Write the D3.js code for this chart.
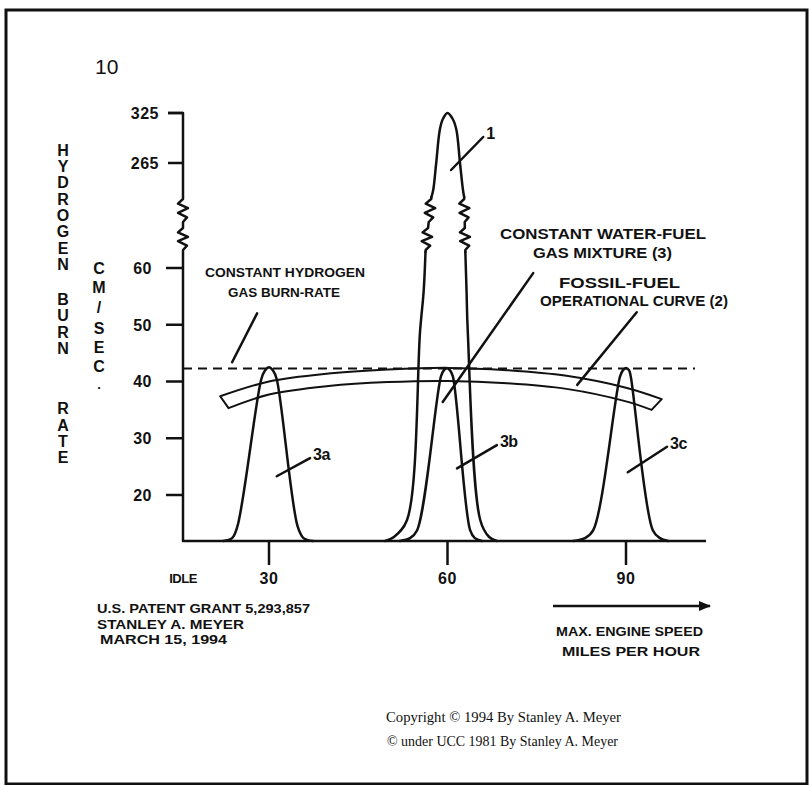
<!DOCTYPE html>
<html>
<head>
<meta charset="utf-8">
<script src="https://cdn.jsdelivr.net/npm/d3@7"></script>
<style>
  body { margin: 0; background: #fff; }
  svg text { font-family: "Liberation Sans", Arial, sans-serif; fill: #111; }
  .lbl { font-weight: bold; }
  .serif { font-family: "Liberation Serif", "Times New Roman", serif; }
</style>
</head>
<body>
<div id="chart"></div>
<script>
// ---- data ----
const xTicks = [30, 60, 90];
const yTicksLow = [20, 30, 40, 50, 60];
const yTicksHigh = [265, 325];
const yTitle = "HYDROGEN BURN RATE";
const yUnit = "CM/SEC.";

// constant hydrogen gas burn-rate (dashed), value and right end (mph)
const burnRate = 42.3;
const burnRateEnd = 101.6;

// fossil-fuel operational curve (2): band outline [mph, cm/sec]
const fossilTop = [[21.8, 37.4], [30, 40.0], [40, 41.4], [50, 42.1], [60, 42.4], [70, 42.0], [80, 41.0], [90, 38.9], [96, 36.9]];
const fossilBottom = [[23.2, 35.3], [30, 37.7], [40, 39.2], [50, 39.9], [60, 40.1], [70, 39.7], [80, 38.7], [90, 36.5], [94.3, 35.0]];

// water-fuel gas mixture peaks (3a, 3b, 3c)
const peak3a = [[22.3, 11.9], [23.8, 12.4], [24.7, 14.5], [28.7, 40.4], [29.3, 41.9], [30, 42.5], [30.7, 41.9], [31.3, 40.4], [34.8, 14.5], [35.8, 12.4], [37.4, 11.9]];
const peak3b = [[52.0, 11.9], [53.7, 12.4], [54.9, 13.8], [58.9, 40.9], [59.4, 42.0], [59.9, 42.4], [60.4, 42.0], [60.9, 40.9], [63.8, 13.8], [64.6, 12.4], [65.8, 11.9]];
const peak3c = [[81.1, 11.9], [83.1, 12.4], [84.5, 13.8], [89.0, 40.9], [89.5, 42.0], [90.0, 42.4], [90.5, 42.0], [90.8, 40.9], [94.5, 13.8], [95.7, 12.4], [97.1, 11.9]];

// hydrogen peak (1), split by the scale break
const peak1Left = [[49.5, 11.9], [51.0, 12.6], [53.2, 15.6], [55.4, 49.0], [56.0, 56.0], [56.3, 62.8]];
const peak1Top = [[57.3, 224.2], [57.6, 232.6], [58.1, 265], [58.7, 304.6], [59.2, 317.5], [60.0, 325], [60.9, 317.5], [61.5, 304.6], [62.1, 265], [62.6, 232.6], [62.8, 224.2]];
const peak1Right = [[63.0, 62.8], [63.2, 56.0], [63.4, 49.0], [65.5, 15.6], [67.0, 12.6], [68.3, 11.9]];

// callouts: leader from [mph, value] to [mph, value], label after it
const callouts = [
  { text: "1", from: [60.6, 256.6], to: [66.0, 296.2] },
  { text: "3a", from: [31.3, 23.3], to: [36.9, 26.5] },
  { text: "3b", from: [61.6, 24.7], to: [68.3, 28.8] },
  { text: "3c", from: [90.3, 24.0], to: [96.9, 28.5] }
];
const leaders = [
  [[23.8, 43.4], [28.0, 52.0]],
  [[59.2, 36.4], [74.4, 59.1]],
  [[81.8, 39.4], [91.8, 52.2]]
];

// ---- layout ----
const W = 809, H = 785;
const x0 = 183, yBase = 541, xEnd = 706;
const breakTop = 197, breakBottom = 252;

const svg = d3.select("#chart").append("svg").attr("width", W).attr("height", H);

// frame
svg.append("rect").attr("x", 6).attr("y", 10).attr("width", 801).attr("height", 774)
  .attr("fill", "none").attr("stroke", "#111").attr("stroke-width", 3);

// scales
const x = d3.scaleLinear().domain([30, 90]).range([269, 626]);
const yLow = d3.scaleLinear().domain([20, 60]).range([495, 268]);
const yHigh = d3.scaleLinear().domain([265, 325]).range([163, 113]);
const y = v => (v < 150 ? yLow(v) : yHigh(v));

const line = d3.line().x(d => x(d[0])).y(d => y(d[1])).curve(d3.curveCatmullRom.alpha(0.5));
const straight = d3.line();

// zigzag break, two wiggles between breakTop and breakBottom
function zigzag(xa, xb) {
  let pts = [];
  let segs = [[breakTop + 2, breakTop + 25], [breakTop + 31, breakBottom - 2]];
  let xi = yy => xa + (xb - xa) * (yy - breakTop) / (breakBottom - breakTop);
  pts.push([xa, breakTop]);
  segs.forEach(([a, b]) => {
    let offs = [0, -5, 5, -5, 4, 0];
    offs.forEach((o, i) => {
      let yy = a + (b - a) * i / (offs.length - 1);
      pts.push([xi(yy) + o, yy]);
    });
  });
  pts.push([xb, breakBottom]);
  return pts;
}

// y axis with break
let g = svg.append("g").attr("fill", "none").attr("stroke", "#111").attr("stroke-width", 2.5)
  .attr("stroke-linejoin", "round");
g.append("path").attr("d", straight([[x0 - 15, yHigh(325)], [x0, yHigh(325)], [x0, breakTop]]));
g.append("path").attr("d", straight(zigzag(x0, x0)));
g.append("path").attr("d", straight([[x0, breakBottom], [x0, yBase], [xEnd, yBase]]));

// y ticks
yTicksHigh.forEach(t => {
  g.append("line").attr("x1", x0 - 15).attr("x2", x0).attr("y1", yHigh(t)).attr("y2", yHigh(t));
  svg.append("text").attr("class", "lbl").attr("x", x0 - 24).attr("y", yHigh(t)).attr("dy", "0.36em")
    .attr("text-anchor", "end").attr("font-size", 16).attr("letter-spacing", 0.5).text(t);
});
yTicksLow.forEach(t => {
  g.append("line").attr("x1", x0 - 17).attr("x2", x0).attr("y1", yLow(t)).attr("y2", yLow(t));
  svg.append("text").attr("class", "lbl").attr("x", x0 - 31).attr("y", yLow(t)).attr("dy", "0.36em")
    .attr("text-anchor", "end").attr("font-size", 16).attr("letter-spacing", 0.5).text(t);
});

// x ticks
xTicks.forEach(t => {
  g.append("line").attr("x1", x(t)).attr("x2", x(t)).attr("y1", yBase).attr("y2", yBase + 24);
  svg.append("text").attr("class", "lbl").attr("x", x(t)).attr("y", 578).attr("dy", "0.36em")
    .attr("text-anchor", "middle").attr("font-size", 16).attr("letter-spacing", 0.5).text(t);
});
svg.append("text").attr("class", "lbl").attr("x", x0).attr("y", 578).attr("dy", "0.36em")
  .attr("text-anchor", "middle").attr("font-size", 13).attr("letter-spacing", -0.5).text("IDLE");

// figure number
svg.append("text").attr("x", 95).attr("y", 66).attr("dy", "0.36em").attr("font-size", 21).text("10");

// vertical axis titles
let words = yTitle.split(" ");
let ty = 150;
words.forEach((w, wi) => {
  w.split("").forEach(ch => {
    svg.append("text").attr("class", "lbl").attr("x", 63).attr("y", ty).attr("dy", "0.36em")
      .attr("text-anchor", "middle").attr("font-size", 16).text(ch);
    ty += 16.3;
  });
  ty += wi === 0 ? 19 : 44;
});
let unitY = [268, 287, 307, 328, 347, 366, 389];
yUnit.split("").forEach((ch, i) => {
  let dot = ch === ".";
  svg.append("text").attr("class", "lbl").attr("x", 99).attr("y", unitY[i]).attr("dy", dot ? "0" : "0.36em")
    .attr("text-anchor", "middle").attr("font-size", dot ? 13 : 16).text(ch);
});

// constant hydrogen burn rate, dashed
svg.append("line").attr("x1", x0).attr("x2", x(burnRateEnd)).attr("y1", y(burnRate)).attr("y2", y(burnRate))
  .attr("stroke", "#111").attr("stroke-width", 2).attr("stroke-dasharray", "9,6");

// fossil-fuel band
let topD = line(fossilTop);
let botD = line(fossilBottom.slice().reverse()).replace(/^M/, "L");
svg.append("path").attr("d", topD + botD + "Z")
  .attr("fill", "none").attr("stroke", "#111").attr("stroke-width", 2).attr("stroke-linejoin", "round");

// peaks
let pg = svg.append("g").attr("fill", "none").attr("stroke", "#111").attr("stroke-width", 2.5)
  .attr("stroke-linejoin", "round").attr("stroke-linecap", "round");
[peak3a, peak3b, peak3c].forEach(p => pg.append("path").attr("d", line(p)));
pg.append("path").attr("d", line(peak1Left));
pg.append("path").attr("d", line(peak1Top));
pg.append("path").attr("d", line(peak1Right));
let lt = peak1Left[peak1Left.length - 1], ut = peak1Top[0];
let ur = peak1Top[peak1Top.length - 1], rt = peak1Right[0];
pg.append("path").attr("d", straight(zigzag(x(ut[0]), x(lt[0]))));
pg.append("path").attr("d", straight(zigzag(x(ur[0]), x(rt[0]))));

// callouts
callouts.forEach(c => {
  pg.append("line").attr("x1", x(c.from[0])).attr("y1", y(c.from[1]))
    .attr("x2", x(c.to[0])).attr("y2", y(c.to[1]));
  svg.append("text").attr("class", "lbl").attr("x", x(c.to[0]) + 3).attr("y", y(c.to[1]) - 4)
    .attr("dy", "0.36em").attr("font-size", 16).attr("letter-spacing", -0.5).text(c.text);
});
leaders.forEach(l => {
  pg.append("line").attr("x1", x(l[0][0])).attr("y1", y(l[0][1]))
    .attr("x2", x(l[1][0])).attr("y2", y(l[1][1]));
});

// text blocks
const blocks = [
  { t: "CONSTANT HYDROGEN", x: 205, y: 272, w: 160, fs: 13 },
  { t: "GAS BURN-RATE", x: 228, y: 292, w: 112, fs: 13 },
  { t: "CONSTANT WATER-FUEL", x: 500, y: 234, w: 206, fs: 14 },
  { t: "GAS MIXTURE (3)", x: 533, y: 253, w: 139, fs: 14 },
  { t: "FOSSIL-FUEL", x: 559, y: 283, w: 121, fs: 14 },
  { t: "OPERATIONAL CURVE (2)", x: 540, y: 301, w: 188, fs: 14 },
  { t: "U.S. PATENT GRANT 5,293,857", x: 97, y: 608, w: 213, fs: 13 },
  { t: "STANLEY A. MEYER", x: 97, y: 624, w: 147, fs: 13 },
  { t: "MARCH 15, 1994", x: 100, y: 639, w: 127, fs: 13 },
  { t: "MAX. ENGINE SPEED", x: 556, y: 631, w: 147, fs: 13 },
  { t: "MILES PER HOUR", x: 562, y: 651, w: 138, fs: 13 }
];
blocks.forEach(b => {
  svg.append("text").attr("class", "lbl").attr("x", b.x).attr("y", b.y).attr("dy", "0.36em")
    .attr("font-size", b.fs).attr("textLength", b.w).attr("lengthAdjust", "spacingAndGlyphs").text(b.t);
});

// speed arrow
svg.append("defs").append("marker").attr("id", "arrow").attr("viewBox", "0 0 10 10")
  .attr("refX", 9).attr("refY", 5).attr("markerWidth", 5).attr("markerHeight", 5)
  .attr("orient", "auto").append("path").attr("d", "M0,1L10,5L0,9Z").attr("fill", "#111");
svg.append("line").attr("x1", 553).attr("x2", 710).attr("y1", 606).attr("y2", 606)
  .attr("stroke", "#111").attr("stroke-width", 2.5).attr("marker-end", "url(#arrow)");

// copyright
svg.append("text").attr("class", "serif").attr("x", 386).attr("y", 717).attr("dy", "0.36em")
  .attr("font-size", 15).attr("textLength", 235).attr("lengthAdjust", "spacingAndGlyphs")
  .text("Copyright \u00A9 1994 By Stanley A. Meyer");
svg.append("text").attr("class", "serif").attr("x", 387).attr("y", 741).attr("dy", "0.36em")
  .attr("font-size", 15).attr("textLength", 231).attr("lengthAdjust", "spacingAndGlyphs")
  .text("\u00A9 under UCC 1981 By Stanley A. Meyer");
</script>
</body>
</html>
